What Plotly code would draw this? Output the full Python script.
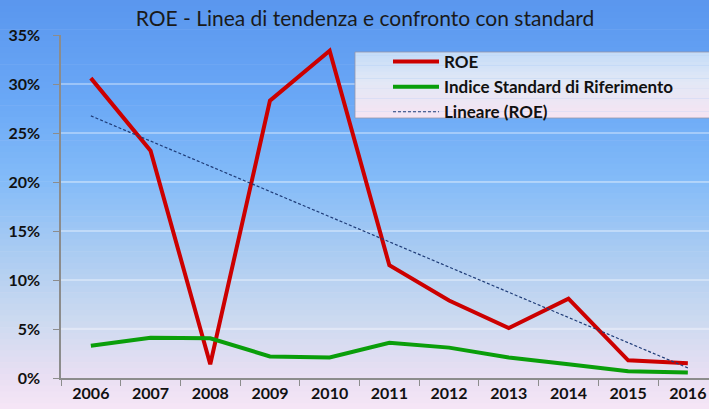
import numpy as np
import plotly.graph_objects as go

# ---- data ----
years = ["2006", "2007", "2008", "2009", "2010", "2011", "2012", "2013", "2014", "2015", "2016"]
roe = [30.6, 23.2, 1.4, 28.3, 33.4, 11.5, 7.9, 5.1, 8.1, 1.8, 1.5]
standard = [3.3, 4.1, 4.05, 2.2, 2.1, 3.6, 3.1, 2.1, 1.4, 0.7, 0.55]
y_ticks = [0, 5, 10, 15, 20, 25, 30, 35]
y_tick_labels = ["0%", "5%", "10%", "15%", "20%", "25%", "30%", "35%"]
title_text = "ROE - Linea di tendenza e confronto con standard"
names = ["ROE", "Indice Standard di Riferimento", "Lineare (ROE)"]

# linear trend (Excel "Lineare") computed from ROE values
xi = np.arange(len(roe))
slope, intercept = np.polyfit(xi, roe, 1)
trend = list(slope * xi + intercept)

W, H = 709, 409
ML, MT, MB, MR = 61, 35, 31, 0
plot_h = H - MT - MB
plot_w = W - ML - MR
cat_w = 59.7
x_max = -0.5 + plot_w / cat_w

FONT = "Lato, 'Open Sans', sans-serif"

fig = go.Figure()
fig.add_trace(go.Scatter(x=years, y=roe, mode="lines", name=names[0],
                         line=dict(color="#CC0000", width=4)))
fig.add_trace(go.Scatter(x=years, y=standard, mode="lines", name=names[1],
                         line=dict(color="#0A9E0A", width=4)))
fig.add_trace(go.Scatter(x=years, y=trend, mode="lines", name=names[2],
                         line=dict(color="#1F3C78", width=1.2, dash="3px,2px")))

def py2paper(py):
    return (H - MB - py) / plot_h

def px2paper(px):
    return (px - ML) / plot_w

def lerp_color(stops, t):
    for i in range(len(stops) - 1):
        p0, c0 = stops[i]
        p1, c1 = stops[i + 1]
        if p0 <= t <= p1:
            f = (t - p0) / (p1 - p0) if p1 > p0 else 0
            c = [int(round(c0[k] + (c1[k] - c0[k]) * f)) for k in range(3)]
            return "rgb(%d,%d,%d)" % tuple(c)
    c = stops[-1][1]
    return "rgb(%d,%d,%d)" % tuple(c)

bg_stops = [
    (0, (90, 150, 238)),
    (100, (106, 168, 246)),
    (180, (131, 187, 248)),
    (250, (169, 203, 242)),
    (320, (204, 218, 240)),
    (380, (234, 223, 243)),
    (409, (246, 230, 246)),
]

shapes = []
n = 70
for i in range(n):
    y0 = H * i / n
    y1 = H * (i + 1) / n + 0.6
    col = lerp_color(bg_stops, (y0 + y1) / 2)
    shapes.append(dict(type="rect", xref="paper", yref="paper",
                       x0=px2paper(-5), x1=px2paper(W + 5),
                       y0=py2paper(y1), y1=py2paper(y0),
                       fillcolor=col, line=dict(width=0), layer="below"))

# legend box gradient
lg_top, lg_bot, lg_left, lg_right = 52, 118, 355, 712
lg_stops = [
    (lg_top, (196, 220, 248)),
    (lg_top + 30, (226, 232, 246)),
    (lg_bot, (246, 228, 242)),
]
m = 20
for i in range(m):
    y0 = lg_top + (lg_bot - lg_top) * i / m
    y1 = lg_top + (lg_bot - lg_top) * (i + 1) / m + 0.4
    col = lerp_color(lg_stops, (y0 + y1) / 2)
    shapes.append(dict(type="rect", xref="paper", yref="paper",
                       x0=px2paper(lg_left), x1=px2paper(lg_right),
                       y0=py2paper(min(y1, lg_bot)), y1=py2paper(y0),
                       fillcolor=col, line=dict(width=0), layer="above"))
shapes.append(dict(type="rect", xref="paper", yref="paper",
                   x0=px2paper(lg_left), x1=px2paper(lg_right),
                   y0=py2paper(lg_bot), y1=py2paper(lg_top),
                   fillcolor="rgba(0,0,0,0)",
                   line=dict(width=1, color="rgba(150,150,170,0.8)"), layer="above"))

fig.update_layout(
    width=W, height=H,
    margin=dict(l=ML, r=MR, t=MT, b=MB),
    paper_bgcolor="#F6E6F6",
    plot_bgcolor="rgba(0,0,0,0)",
    shapes=shapes,
    title=dict(text=title_text, x=365 / W, xref="container", xanchor="center",
               y=1 - 19 / H, yref="container", yanchor="middle",
               font=dict(family=FONT, size=21, color="#1A1A1A")),
    showlegend=True,
    legend=dict(x=px2paper(388), y=py2paper(44),
                xanchor="left", yanchor="top",
                bgcolor="rgba(0,0,0,0)", borderwidth=0,
                font=dict(family=FONT, size=17, color="#111111", weight="bold"),
                tracegroupgap=0, itemwidth=46),
    xaxis=dict(type="category", range=[-0.5, x_max], tickson="boundaries",
               ticks="outside", ticklen=6, tickcolor="#8C8C8C",
               showline=True, linecolor="#8C8C8C", linewidth=1.5,
               showgrid=False, zeroline=False,
               tickfont=dict(family=FONT, size=16, color="#111111", weight="bold")),
    yaxis=dict(range=[0, 35], tickvals=y_ticks, ticktext=y_tick_labels,
               ticks="outside", ticklen=6, tickcolor="#8C8C8C",
               showline=True, linecolor="#8C8C8C", linewidth=1.5,
               showgrid=True, gridcolor="rgba(255,255,255,0.35)", gridwidth=1.5,
               zeroline=False, ticklabelstandoff=10,
               tickfont=dict(family=FONT, size=16, color="#111111", weight="bold")),
)

fig.write_html("out.html", config={"displayModeBar": False},
               post_script="document.body.style.margin='0';document.body.style.padding='0';")
